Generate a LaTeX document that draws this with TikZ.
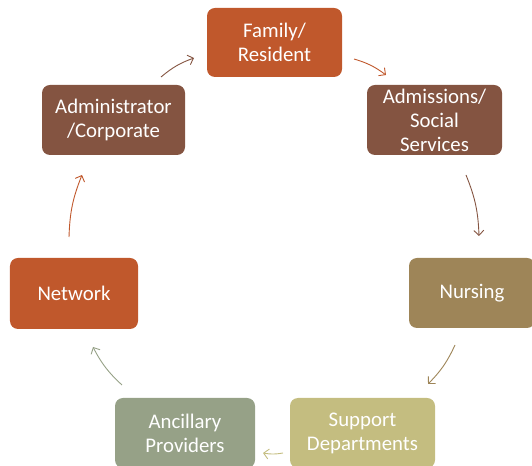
\documentclass[tikz,border=0pt]{standalone}
\usepackage{fontspec}
\setmainfont{Carlito}
\usetikzlibrary{arrows.meta}
\definecolor{cOrange}{HTML}{C0582C}
\definecolor{cBrown}{HTML}{845441}
\definecolor{cKhaki}{HTML}{9E8558}
\definecolor{cSand}{HTML}{C4BD80}
\definecolor{cSage}{HTML}{96A187}
\tikzset{
  box/.style={draw=none, rounded corners=8bp, text=white, align=center,
    font=\fontsize{20.8bp}{24bp}\selectfont, inner sep=0pt},
  cyc/.style={line width=0.9bp, -{Straight Barb[length=5bp,width=10bp,line width=0.9bp]}, bend left=10}
}
\begin{document}
\begin{tikzpicture}[x=1bp,y=1bp]
\useasboundingbox (0,0) rectangle (532,466);
\node[box, fill=cOrange, minimum width=135bp, minimum height=69bp] (fam) at (274.5,423.5) {Family/\\Resident};
\node[box, fill=cBrown, minimum width=143bp, minimum height=70bp] (adm) at (113.5,346) {Administrator\\/Corporate};
\node[box, fill=cBrown, minimum width=135bp, minimum height=70bp] (ads) at (434.5,346) {Admissions/\\Social\\Services};
\node[box, fill=cKhaki, minimum width=126bp, minimum height=70bp] (nur) at (472,173) {Nursing};
\node[box, fill=cOrange, minimum width=128bp, minimum height=71bp] (net) at (74,172.5) {Network};
\node[box, fill=cSage, minimum width=140bp, minimum height=70bp] (anc) at (185,33) {Ancillary\\Providers};
\node[box, fill=cSand, minimum width=145bp, minimum height=70bp] (sup) at (362.5,33) {Support\\Departments};
% arrow end points
\coordinate (a1) at (161,389); \coordinate (b1) at (194,408);
\coordinate (a2) at (354,407); \coordinate (b2) at (386,391);
\coordinate (a3) at (466,291); \coordinate (b3) at (479,230);
\coordinate (a4) at (455,121); \coordinate (b4) at (428,82);
\coordinate (a5) at (283,13);  \coordinate (b5) at (263,13);
\coordinate (a6) at (122,81);  \coordinate (b6) at (93,119);
\coordinate (a7) at (69,229);  \coordinate (b7) at (82,291);
\draw[cyc, draw=cBrown] (a1) to (b1);
\draw[cyc, draw=cOrange] (a2) to (b2);
\draw[cyc, draw=cBrown] (a3) to (b3);
\draw[cyc, draw=cKhaki] (a4) to (b4);
\draw[cyc, draw=cSand] (a5) to (b5);
\draw[cyc, draw=cSage] (a6) to (b6);
\draw[cyc, draw=cOrange] (a7) to (b7);
\end{tikzpicture}
\end{document}
